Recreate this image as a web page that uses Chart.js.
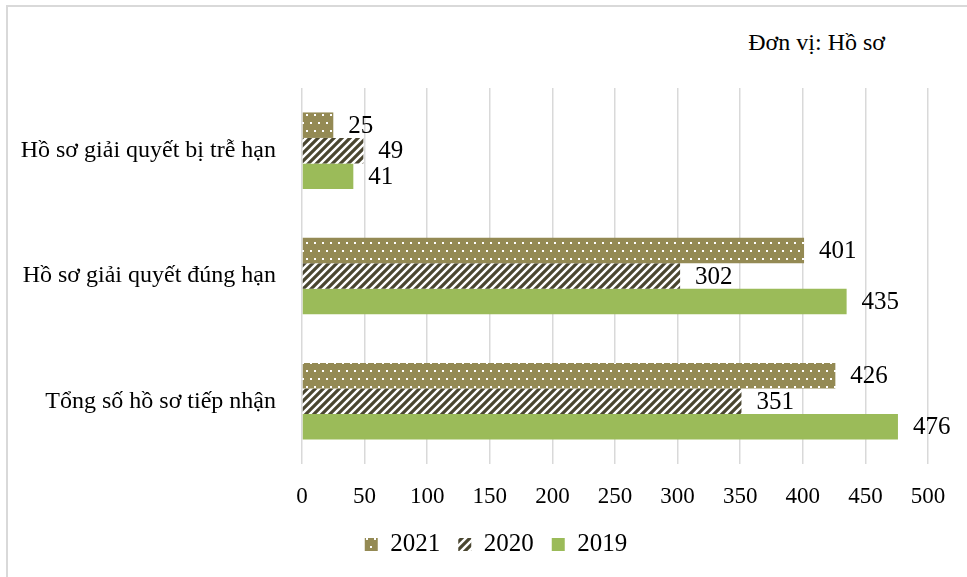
<!DOCTYPE html>
<html>
<head>
<meta charset="utf-8">
<script src="https://cdn.jsdelivr.net/npm/chart.js@4/dist/chart.umd.min.js"></script>
<style>
  html, body { margin: 0; padding: 0; background: #fff; }
  #wrap { position: relative; width: 967px; height: 577px; overflow: hidden; }
  #frame { position: absolute; left: 6px; top: 5px; right: -10px; bottom: -10px;
           border-top: 2px solid #d9d9d9; border-left: 2px solid #d9d9d9; }
  #unit { position: absolute; right: 82px; top: 29px; font-family: "Liberation Serif", serif;
          font-size: 24px; color: #000; }
  canvas { position: absolute; left: 0; top: 0; }
</style>
</head>
<body>
<div id="wrap">
  <div id="frame"></div>
  <div id="unit">Đơn vị: Hồ sơ</div>
  <canvas id="chart" width="967" height="577"></canvas>
</div>
<script>
const categories = ["Hồ sơ giải quyết bị trễ hạn", "Hồ sơ giải quyết đúng hạn", "Tổng số hồ sơ tiếp nhận"];
const years = ["2021", "2020", "2019"];
const values2021 = [25, 401, 426];
const values2020 = [49, 302, 351];
const values2019 = [41, 435, 476];
const xTicks = [0, 50, 100, 150, 200, 250, 300, 350, 400, 450, 500];

const colors = {
  olive: "#948a54",
  stripe: "#4a4630",
  green: "#9bbb59",
  grid: "#d9d9d9",
};

// dotted fill for 2021
function dotPattern() {
  const c = document.createElement("canvas");
  c.width = 16; c.height = 16;
  const g = c.getContext("2d");
  g.fillStyle = colors.olive;
  g.fillRect(0, 0, 16, 16);
  g.fillStyle = "#ffffff";
  [[2, 2], [10, 2], [6, 10], [14, 10]].forEach(([x, y]) => g.fillRect(x, y, 2, 2));
  return g.createPattern(c, "repeat");
}

// diagonal "/" stripes for 2020
function stripePattern() {
  const c = document.createElement("canvas");
  c.width = 8; c.height = 8;
  const g = c.getContext("2d");
  g.fillStyle = "#ffffff";
  g.fillRect(0, 0, 8, 8);
  g.strokeStyle = colors.stripe;
  g.lineWidth = 3.2;
  g.beginPath();
  g.moveTo(-2, 10); g.lineTo(10, -2);
  g.moveTo(-6, 6); g.lineTo(6, -6);
  g.moveTo(2, 14); g.lineTo(14, 2);
  g.stroke();
  return g.createPattern(c, "repeat");
}

const valueLabels = {
  id: "valueLabels",
  afterDatasetsDraw(chart) {
    const ctx = chart.ctx;
    ctx.save();
    ctx.font = "25px 'Liberation Serif', serif";
    ctx.fillStyle = "#000";
    ctx.textAlign = "left";
    ctx.textBaseline = "middle";
    chart.data.datasets.forEach((ds, i) => {
      chart.getDatasetMeta(i).data.forEach((bar, j) => {
        ctx.fillText(String(ds.data[j]), bar.x + 15, bar.y + 1);
      });
    });
    ctx.restore();
  },
};

// legend sits a bit right of the centre, under the plot
const legendShift = {
  id: "legendShift",
  afterLayout(chart) {
    if (chart.legend) chart.legend.left += 64;
  },
};

new Chart(document.getElementById("chart"), {
  type: "bar",
  data: {
    labels: categories,
    datasets: [
      { label: years[0], data: values2021, backgroundColor: dotPattern(), borderWidth: 0 },
      { label: years[1], data: values2020, backgroundColor: stripePattern(), borderWidth: 0 },
      { label: years[2], data: values2019, backgroundColor: colors.green, borderWidth: 0 },
    ],
  },
  options: {
    indexAxis: "y",
    responsive: false,
    animation: false,
    layout: { padding: { top: 88, left: 0, right: 39, bottom: 10 } },
    datasets: { bar: { categoryPercentage: 0.61, barPercentage: 1 } },
    plugins: {
      tooltip: { enabled: false },
      legend: {
        position: "bottom",
        labels: {
          color: "#000",
          boxWidth: 13,
          boxHeight: 13,
          padding: 18,
          font: { family: "Liberation Serif", size: 25 },
        },
      },
    },
    scales: {
      x: {
        min: 0,
        max: 500,
        afterBuildTicks: (s) => { s.ticks = xTicks.map((v) => ({ value: v })); },
        afterFit: (s) => { s.height = 50; },
        border: { display: false },
        grid: { color: colors.grid, lineWidth: 1.5, drawTicks: false },
        ticks: { color: "#000", padding: 19, font: { family: "Liberation Serif", size: 23 } },
      },
      y: {
        afterFit: (s) => { s.width = 302; },
        border: { display: false },
        grid: { display: false },
        ticks: { color: "#000", padding: 18, font: { family: "Liberation Serif", size: 24 } },
      },
    },
  },
  plugins: [valueLabels, legendShift],
});
</script>
</body>
</html>
